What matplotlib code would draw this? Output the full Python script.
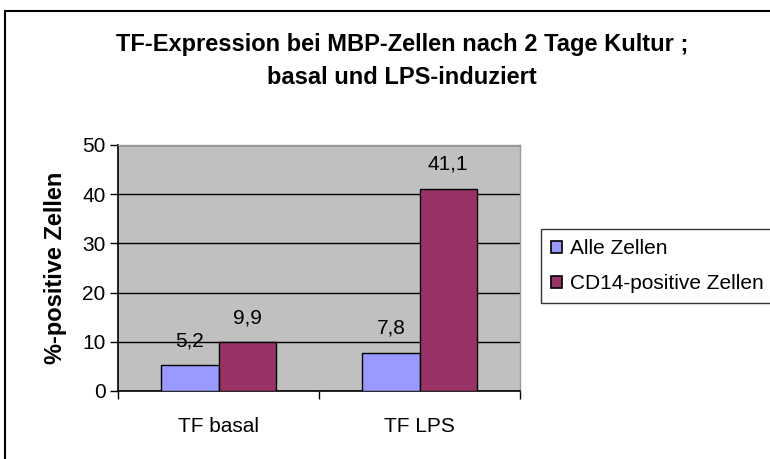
import numpy as np
import matplotlib.pyplot as plt
from matplotlib.patches import Rectangle

plt.rcParams['font.family'] = ['Liberation Sans', 'DejaVu Sans']

# data
categories = ['TF basal', 'TF LPS']
series_names = ['Alle Zellen', 'CD14-positive Zellen']
alle_zellen = [5.2, 7.8]
cd14_zellen = [9.9, 41.1]
colors = ['#9999FF', '#993366']

fig = plt.figure(figsize=(7.7, 4.59), dpi=100)
ax = fig.add_axes([118 / 770, 1 - 391 / 459, 402 / 770, 246 / 459])
ax.set_facecolor('#C0C0C0')

x = np.arange(len(categories))
w = 0.284
vals = [alle_zellen, cd14_zellen]
for i, (name, v) in enumerate(zip(series_names, vals)):
    bars = ax.bar(x + (i - 0.5) * w, v, w, color=colors[i], edgecolor='black',
                  linewidth=1, label=name, zorder=3)
    for b, val in zip(bars, v):
        ax.annotate(f'{val:.1f}'.replace('.', ','), (b.get_x() + b.get_width() / 2, val),
                    xytext=(0, 11), textcoords='offset points',
                    ha='center', va='bottom', fontsize=15, zorder=4)

ax.set_xlim(-0.5, 1.5)
ax.set_ylim(0, 50)
ax.set_yticks(range(0, 51, 10))
ax.yaxis.grid(True, color='black', linewidth=1, zorder=1)
ax.set_axisbelow(True)
ax.set_xticks([-0.5, 0.5, 1.5])
ax.set_xticklabels([])
ax.set_xticks(x, minor=True)
ax.set_xticklabels(categories, minor=True, fontsize=15)
ax.tick_params(axis='x', which='minor', length=0, pad=19)
ax.tick_params(axis='x', which='major', length=6, width=1, direction='out')
ax.tick_params(axis='y', length=6, width=1, direction='out', labelsize=15, pad=3)

for s in ['left', 'bottom']:
    ax.spines[s].set_color('black')
    ax.spines[s].set_linewidth(1.2)
for s in ['top', 'right']:
    ax.spines[s].set_color('#999999')
    ax.spines[s].set_linewidth(1)

ax.set_ylabel('%-positive Zellen', fontsize=17, fontweight='bold', labelpad=11)

fig.text(402 / 770, 1 - 61 / 459, 'TF-Expression bei MBP-Zellen nach 2 Tage Kultur ;\nbasal und LPS-induziert',
         ha='center', va='center', fontsize=17, fontweight='bold', linespacing=1.5)

leg = fig.legend(loc='upper left', bbox_to_anchor=(541 / 770, 1 - 229 / 459),
                 fontsize=15, frameon=True, fancybox=False, edgecolor='black',
                 handlelength=0.5, handleheight=0.5, handletextpad=0.4,
                 labelspacing=0.75, borderpad=0.5, borderaxespad=0)
leg.get_frame().set_linewidth(1)
for h in leg.legend_handles:
    h.set_linewidth(1.2)

# outer chart frame (runs off right and bottom edges)
fig.patches.append(Rectangle((5 / 770, -0.1), 1.2, 1 - 11 / 459 + 0.1,
                             transform=fig.transFigure, fill=False,
                             edgecolor='black', linewidth=1.5))

fig.savefig('out.png', dpi=100)
